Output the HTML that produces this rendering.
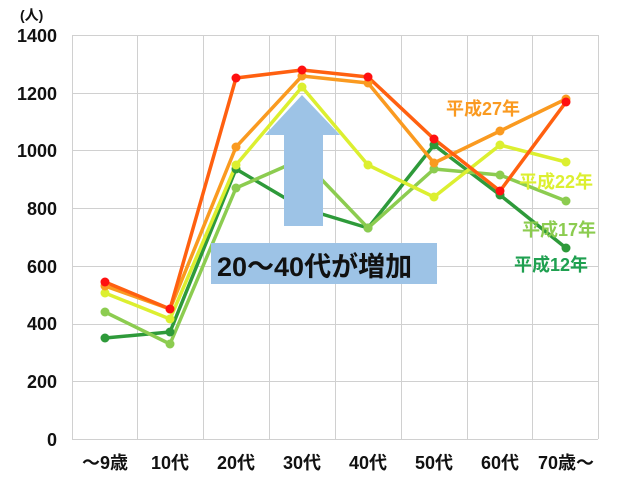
<!DOCTYPE html>
<html><head><meta charset="utf-8"><style>
body{margin:0;background:#fff;}
svg text{font-family:"Liberation Sans","Noto Sans CJK JP",sans-serif;font-weight:bold;}
</style></head><body>
<svg width="630" height="480" viewBox="0 0 630 480" xmlns="http://www.w3.org/2000/svg">
<rect width="630" height="480" fill="#fff"/>
<g stroke="#d0d0d0" stroke-width="1">
<line x1="72" y1="35.5" x2="598" y2="35.5"/><line x1="72" y1="93.5" x2="598" y2="93.5"/>
<line x1="72" y1="150.5" x2="598" y2="150.5"/><line x1="72" y1="208.5" x2="598" y2="208.5"/>
<line x1="72" y1="266.5" x2="598" y2="266.5"/><line x1="72" y1="324.5" x2="598" y2="324.5"/>
<line x1="72" y1="381.5" x2="598" y2="381.5"/><line x1="72" y1="439.5" x2="598" y2="439.5"/>
<line x1="72.5" y1="35" x2="72.5" y2="439"/><line x1="137.5" y1="35" x2="137.5" y2="439"/>
<line x1="203.5" y1="35" x2="203.5" y2="439"/><line x1="269.5" y1="35" x2="269.5" y2="439"/>
<line x1="335.5" y1="35" x2="335.5" y2="439"/><line x1="401.5" y1="35" x2="401.5" y2="439"/>
<line x1="467.5" y1="35" x2="467.5" y2="439"/><line x1="532.5" y1="35" x2="532.5" y2="439"/>
<line x1="598.5" y1="35" x2="598.5" y2="439"/>
</g>
<g font-size="18" text-anchor="end" fill="#111">
<text x="57" y="42">1400</text><text x="57" y="100">1200</text><text x="57" y="157">1000</text>
<text x="57" y="215">800</text><text x="57" y="273">600</text><text x="57" y="330">400</text>
<text x="57" y="388">200</text><text x="57" y="446">0</text>
</g>
<text x="20" y="20" font-size="14" fill="#111">(人)</text>
<g font-size="18" text-anchor="middle" fill="#111">
<text x="105" y="469">～9歳</text><text x="170" y="469">10代</text><text x="236" y="469">20代</text>
<text x="302" y="469">30代</text><text x="368" y="469">40代</text><text x="434" y="469">50代</text>
<text x="500" y="469">60代</text><text x="566" y="469">70歳～</text>
</g>
<g fill="none" stroke-width="3.5" stroke-linejoin="round">
<polyline stroke="#2e9a3a" points="105,338 170,332 236,169 302,208 368,228 434,145 500,195 566,248"/>
<polyline stroke="#8ccc50" points="105,312 170,344 236,188 302,159 368,228 434,169 500,175 566,201"/>
<polyline stroke="#dcef30" points="105,293 170,319 236,165 302,87 368,165 434,197 500,145 566,162"/>
<polyline stroke="#fa9a20" points="105,286 170,309 236,147 302,76 368,83 434,163 500,131 566,99"/>
<polyline stroke="#ff6010" points="105,282 170,309 236,78 302,70 368,77 434,139 500,191 566,102"/>
</g>
<g fill="#2e9a3a"><circle cx="105" cy="338" r="4.5"/><circle cx="170" cy="332" r="4.5"/><circle cx="236" cy="169" r="4.5"/><circle cx="302" cy="208" r="4.5"/><circle cx="368" cy="228" r="4.5"/><circle cx="434" cy="145" r="4.5"/><circle cx="500" cy="195" r="4.5"/><circle cx="566" cy="248" r="4.5"/></g>
<g fill="#8ccc50"><circle cx="105" cy="312" r="4.5"/><circle cx="170" cy="344" r="4.5"/><circle cx="236" cy="188" r="4.5"/><circle cx="302" cy="159" r="4.5"/><circle cx="368" cy="228" r="4.5"/><circle cx="434" cy="169" r="4.5"/><circle cx="500" cy="175" r="4.5"/><circle cx="566" cy="201" r="4.5"/></g>
<g fill="#dcef30"><circle cx="105" cy="293" r="4.5"/><circle cx="170" cy="319" r="4.5"/><circle cx="236" cy="165" r="4.5"/><circle cx="302" cy="87" r="4.5"/><circle cx="368" cy="165" r="4.5"/><circle cx="434" cy="197" r="4.5"/><circle cx="500" cy="145" r="4.5"/><circle cx="566" cy="162" r="4.5"/></g>
<g fill="#fa9a20"><circle cx="105" cy="286" r="4.5"/><circle cx="170" cy="309" r="4.5"/><circle cx="236" cy="147" r="4.5"/><circle cx="302" cy="76" r="4.5"/><circle cx="368" cy="83" r="4.5"/><circle cx="434" cy="163" r="4.5"/><circle cx="500" cy="131" r="4.5"/><circle cx="566" cy="99" r="4.5"/></g>
<g fill="#ff1010"><circle cx="105" cy="282" r="4.5"/><circle cx="170" cy="309" r="4.5"/><circle cx="236" cy="78" r="4.5"/><circle cx="302" cy="70" r="4.5"/><circle cx="368" cy="77" r="4.5"/><circle cx="434" cy="139" r="4.5"/><circle cx="500" cy="191" r="4.5"/><circle cx="566" cy="102" r="4.5"/></g>
<polygon fill="#9dc3e6" points="302,95 340,135 323,135 323,226 284,226 284,135 265,135"/>
<rect x="211" y="243" width="226" height="41" fill="#9dc3e6"/>
<text x="217" y="276" font-size="27" fill="#111">20～40代が増加</text>
<g font-size="18">
<text x="446" y="115" fill="#fa9a20">平成27年</text>
<text x="519" y="188" fill="#dcef30">平成22年</text>
<text x="522" y="236" fill="#8ccc50">平成17年</text>
<text x="514" y="271" fill="#1fa050">平成12年</text>
</g>
</svg>
</body></html>
